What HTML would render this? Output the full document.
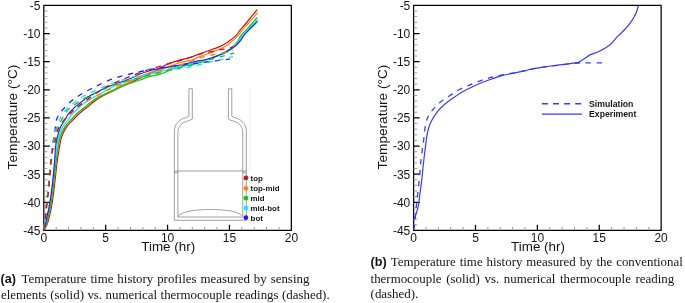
<!DOCTYPE html>
<html lang="en"><head><meta charset="utf-8"><title>Temperature time history</title>
<style>
html,body{margin:0;padding:0;background:#fff;}
svg{display:block;will-change:transform;}
text{fill:#141414;}
.tk{font:12px "Liberation Sans",Arial,sans-serif;}
.ttl{font:13.4px "Liberation Sans",Arial,sans-serif;}
.lg1{font:bold 7.9px "Liberation Sans",Arial,sans-serif;}
.lg2{font:bold 8.7px "Liberation Sans",Arial,sans-serif;}
.cap{font:12.9px "Liberation Serif","Times New Roman",serif;}
.cb{font:bold 12.6px "Liberation Sans",Arial,sans-serif;}
</style></head>
<body>
<svg width="685" height="303" viewBox="0 0 685 303">
<rect width="685" height="303" fill="#fff"/>
<path d="M43.8,230.4V5.4H291.35V230.4Z" fill="none" stroke="#000" stroke-width="1.25" stroke-linejoin="round"/>
<path d="M56.18,230.4v-3.4M68.56,230.4v-3.4M80.93,230.4v-3.4M93.31,230.4v-3.4M118.07,230.4v-3.4M130.44,230.4v-3.4M142.82,230.4v-3.4M155.20,230.4v-3.4M179.95,230.4v-3.4M192.33,230.4v-3.4M204.71,230.4v-3.4M217.09,230.4v-3.4M241.84,230.4v-3.4M254.22,230.4v-3.4M266.60,230.4v-3.4M278.97,230.4v-3.4M43.8,11.03h3.6M43.8,16.65h3.6M43.8,22.27h3.6M43.8,27.90h3.6M43.8,39.15h3.6M43.8,44.77h3.6M43.8,50.40h3.6M43.8,56.02h3.6M43.8,67.28h3.6M43.8,72.90h3.6M43.8,78.53h3.6M43.8,84.15h3.6M43.8,95.40h3.6M43.8,101.03h3.6M43.8,106.65h3.6M43.8,112.28h3.6M43.8,123.53h3.6M43.8,129.15h3.6M43.8,134.78h3.6M43.8,140.40h3.6M43.8,151.65h3.6M43.8,157.28h3.6M43.8,162.90h3.6M43.8,168.53h3.6M43.8,179.78h3.6M43.8,185.40h3.6M43.8,191.03h3.6M43.8,196.65h3.6M43.8,207.90h3.6M43.8,213.53h3.6M43.8,219.15h3.6M43.8,224.78h3.6" fill="none" stroke="#8e8e8e" stroke-width="0.9"/>
<path d="M105.69,230.4v-5.6M167.57,230.4v-5.6M229.46,230.4v-5.6M43.8,33.52h6M43.8,61.65h6M43.8,89.78h6M43.8,117.90h6M43.8,146.03h6M43.8,174.15h6M43.8,202.28h6" fill="none" stroke="#000" stroke-width="1.25"/>
<text x="40.5" y="9.8" text-anchor="end" class="tk">-5</text>
<text x="40.5" y="37.9" text-anchor="end" class="tk">-10</text>
<text x="40.5" y="66.0" text-anchor="end" class="tk">-15</text>
<text x="40.5" y="94.2" text-anchor="end" class="tk">-20</text>
<text x="40.5" y="122.3" text-anchor="end" class="tk">-25</text>
<text x="40.5" y="150.4" text-anchor="end" class="tk">-30</text>
<text x="40.5" y="178.6" text-anchor="end" class="tk">-35</text>
<text x="40.5" y="206.7" text-anchor="end" class="tk">-40</text>
<text x="40.5" y="234.8" text-anchor="end" class="tk">-45</text>
<text x="43.8" y="241.5" text-anchor="middle" class="tk">0</text>
<text x="105.7" y="241.5" text-anchor="middle" class="tk">5</text>
<text x="167.6" y="241.5" text-anchor="middle" class="tk">10</text>
<text x="229.5" y="241.5" text-anchor="middle" class="tk">15</text>
<text x="291.4" y="241.5" text-anchor="middle" class="tk">20</text>
<text x="168.2" y="251.2" text-anchor="middle" class="ttl">Time (hr)</text>
<text transform="translate(16.9,117.0) rotate(-90)" text-anchor="middle" class="ttl" style="font-size:13.65px">Temperature (°C)</text>
<path d="M413.6,230.4V5.4H661.15V230.4Z" fill="none" stroke="#000" stroke-width="1.25" stroke-linejoin="round"/>
<path d="M425.98,230.4v-3.4M438.36,230.4v-3.4M450.73,230.4v-3.4M463.11,230.4v-3.4M487.87,230.4v-3.4M500.24,230.4v-3.4M512.62,230.4v-3.4M525.00,230.4v-3.4M549.75,230.4v-3.4M562.13,230.4v-3.4M574.51,230.4v-3.4M586.88,230.4v-3.4M611.64,230.4v-3.4M624.02,230.4v-3.4M636.39,230.4v-3.4M648.77,230.4v-3.4M413.6,11.03h3.6M413.6,16.65h3.6M413.6,22.27h3.6M413.6,27.90h3.6M413.6,39.15h3.6M413.6,44.77h3.6M413.6,50.40h3.6M413.6,56.02h3.6M413.6,67.28h3.6M413.6,72.90h3.6M413.6,78.53h3.6M413.6,84.15h3.6M413.6,95.40h3.6M413.6,101.03h3.6M413.6,106.65h3.6M413.6,112.28h3.6M413.6,123.53h3.6M413.6,129.15h3.6M413.6,134.78h3.6M413.6,140.40h3.6M413.6,151.65h3.6M413.6,157.28h3.6M413.6,162.90h3.6M413.6,168.53h3.6M413.6,179.78h3.6M413.6,185.40h3.6M413.6,191.03h3.6M413.6,196.65h3.6M413.6,207.90h3.6M413.6,213.53h3.6M413.6,219.15h3.6M413.6,224.78h3.6" fill="none" stroke="#8e8e8e" stroke-width="0.9"/>
<path d="M475.49,230.4v-5.6M537.38,230.4v-5.6M599.26,230.4v-5.6M413.6,33.52h6M413.6,61.65h6M413.6,89.78h6M413.6,117.90h6M413.6,146.03h6M413.6,174.15h6M413.6,202.28h6" fill="none" stroke="#000" stroke-width="1.25"/>
<text x="410.3" y="9.8" text-anchor="end" class="tk">-5</text>
<text x="410.3" y="37.9" text-anchor="end" class="tk">-10</text>
<text x="410.3" y="66.0" text-anchor="end" class="tk">-15</text>
<text x="410.3" y="94.2" text-anchor="end" class="tk">-20</text>
<text x="410.3" y="122.3" text-anchor="end" class="tk">-25</text>
<text x="410.3" y="150.4" text-anchor="end" class="tk">-30</text>
<text x="410.3" y="178.6" text-anchor="end" class="tk">-35</text>
<text x="410.3" y="206.7" text-anchor="end" class="tk">-40</text>
<text x="410.3" y="234.8" text-anchor="end" class="tk">-45</text>
<text x="413.6" y="241.5" text-anchor="middle" class="tk">0</text>
<text x="475.5" y="241.5" text-anchor="middle" class="tk">5</text>
<text x="537.4" y="241.5" text-anchor="middle" class="tk">10</text>
<text x="599.3" y="241.5" text-anchor="middle" class="tk">15</text>
<text x="661.1" y="241.5" text-anchor="middle" class="tk">20</text>
<text x="538.0" y="251.2" text-anchor="middle" class="ttl">Time (hr)</text>
<text transform="translate(386.7,117.0) rotate(-90)" text-anchor="middle" class="ttl" style="font-size:13.65px">Temperature (°C)</text>
<g fill="none" stroke="#6e6e6e" stroke-width="0.65">
<path d="M188.9,88.8V116.2L186.6,117.4C178.5,119.3 174.4,124.5 174.4,131.5V220.3H246.3V131.5C246.3,124.5 242.2,119.3 234.1,117.4L231.8,116.2V88.8H228.4V119.0L231,120.4C238.5,122 242.8,126.3 242.8,132.3V217H177.9V132.3C177.9,126.3 182.2,122 189.7,120.4L192.3,119.0V88.8Z"/>
<path d="M174.4,171H246.3M174.4,172.7H177.9M242.8,172.7H246.3"/>
<path d="M177.9,216.6C181.5,211.2 196,209.5 210.35,209.5C224.7,209.5 239.2,211.2 242.8,216.6"/>
</g>
<path d="M249.8,86V171" fill="none" stroke="#e9e9e9" stroke-width="0.7"/>
<path d="M44.3,230.0C44.8,228.8 46.7,225.5 47.6,223.0C48.5,220.5 49.0,217.9 49.7,215.0C50.4,212.1 51.1,209.4 51.7,205.7C52.4,202.0 53.0,197.3 53.6,193.0C54.2,188.7 54.6,184.2 55.1,180.0C55.6,175.8 56.0,171.7 56.4,168.0C56.8,164.3 57.2,161.4 57.7,158.0C58.2,154.6 58.8,151.2 59.4,147.7C60.0,144.2 60.3,140.6 61.5,137.1C62.7,133.6 64.8,129.5 66.8,126.6C68.8,123.6 71.7,121.4 73.6,119.4C75.5,117.4 76.4,116.3 78.0,114.8C79.6,113.3 81.5,111.7 83.2,110.3C85.0,108.9 86.8,107.8 88.5,106.4C90.2,105.0 91.5,103.5 93.5,102.0C95.5,100.5 98.0,98.7 100.5,97.2C103.0,95.7 106.0,94.3 108.3,93.2C110.5,92.1 112.0,91.6 114.0,90.5C116.0,89.4 117.8,88.0 120.6,86.6C123.4,85.2 127.9,83.6 131.1,82.2C134.3,80.8 137.2,79.6 140.0,78.3C142.8,77.0 145.3,75.7 148.0,74.4C150.7,73.1 153.7,71.9 156.0,70.6C158.3,69.3 159.8,68.0 162.0,66.8C164.2,65.6 166.8,64.4 169.4,63.4C172.0,62.4 175.1,61.4 177.8,60.6C180.5,59.8 183.4,59.2 185.8,58.6C188.2,58.0 189.5,57.6 192.0,56.7C194.5,55.9 196.7,54.9 200.6,53.5C204.5,52.1 211.6,49.7 215.2,48.4C218.8,47.1 220.0,46.6 222.1,45.5C224.2,44.4 225.7,43.4 227.9,41.9C230.1,40.4 233.1,38.4 235.2,36.4C237.3,34.4 238.6,31.9 240.3,29.8C242.0,27.7 242.6,27.4 245.4,24.0C248.2,20.6 255.2,12.0 257.2,9.6" fill="none" stroke="#cc1414" stroke-width="1.2" stroke-linejoin="round"/>
<path d="M44.3,230.0C44.7,228.8 46.0,225.5 46.7,223.0C47.4,220.5 48.0,217.9 48.6,215.0C49.2,212.1 50.0,209.4 50.6,205.7C51.2,202.0 51.9,197.3 52.5,193.0C53.1,188.7 53.5,184.2 54.0,180.0C54.5,175.8 54.9,171.7 55.3,168.0C55.7,164.3 56.0,161.4 56.5,158.0C57.0,154.6 57.4,151.2 58.0,147.7C58.6,144.2 58.9,140.6 60.1,137.1C61.3,133.6 63.2,129.5 65.1,126.6C67.0,123.6 69.8,121.4 71.6,119.4C73.4,117.4 74.2,116.1 75.8,114.6C77.4,113.0 79.3,111.5 81.1,110.1C82.9,108.7 84.6,107.5 86.4,106.0C88.2,104.5 89.7,103.0 91.9,101.4C94.1,99.8 97.2,98.1 99.8,96.6C102.4,95.1 105.5,93.7 107.8,92.6C110.1,91.5 111.5,91.0 113.6,89.9C115.7,88.8 117.7,87.3 120.6,85.9C123.5,84.5 128.1,82.9 131.1,81.4C134.1,79.9 135.7,78.4 138.6,77.0C141.5,75.6 145.3,74.1 148.7,73.0C152.0,71.9 155.6,71.3 158.7,70.3C161.8,69.3 164.6,68.2 167.3,67.2C170.1,66.2 172.6,65.2 175.2,64.3C177.8,63.4 180.3,62.6 183.1,61.9C185.9,61.2 189.1,61.0 192.0,60.1C194.9,59.2 196.7,57.9 200.6,56.4C204.5,54.9 210.8,52.7 215.2,50.9C219.6,49.1 224.2,47.0 226.8,45.5C229.4,44.0 229.0,43.7 230.8,42.2C232.6,40.7 235.6,38.3 237.4,36.4C239.2,34.5 240.1,32.7 241.8,30.6C243.5,28.5 245.0,27.0 247.6,24.0C250.2,21.0 255.9,14.5 257.6,12.6" fill="none" stroke="#ff8010" stroke-width="1.2" stroke-linejoin="round"/>
<path d="M44.3,230.0C44.7,228.8 46.0,225.5 46.7,223.0C47.4,220.5 48.0,217.9 48.6,215.0C49.2,212.1 50.0,209.4 50.6,205.7C51.2,202.0 51.9,197.3 52.5,193.0C53.1,188.7 53.5,184.2 54.0,180.0C54.5,175.8 54.9,171.7 55.3,168.0C55.7,164.3 56.0,161.4 56.5,158.0C57.0,154.6 57.4,151.2 58.0,147.7C58.6,144.2 58.9,140.6 60.1,137.1C61.3,133.6 63.2,129.5 65.1,126.6C67.0,123.6 69.8,121.4 71.6,119.4C73.4,117.4 74.2,116.1 75.8,114.6C77.4,113.0 79.3,111.5 81.1,110.1C82.9,108.7 84.6,107.5 86.4,106.0C88.2,104.5 89.7,103.0 91.9,101.4C94.1,99.8 97.2,98.0 99.8,96.6C102.4,95.2 105.5,93.8 107.8,92.8C110.1,91.8 111.5,91.2 113.6,90.3C115.7,89.3 117.7,88.3 120.6,87.1C123.5,85.9 127.9,84.1 131.1,82.9C134.3,81.7 137.2,81.0 140.0,80.0C142.8,79.0 144.6,78.0 148.2,76.9C151.8,75.8 157.1,75.1 161.6,73.6C166.1,72.1 171.6,69.2 175.2,68.0C178.8,66.8 180.3,66.8 183.1,66.2C185.9,65.6 189.8,64.7 192.0,64.3C194.2,63.9 193.3,64.4 196.0,63.6C198.7,62.8 204.1,60.9 207.9,59.5C211.7,58.1 215.9,56.6 218.8,55.3C221.7,54.0 223.1,53.2 225.4,51.7C227.7,50.2 230.9,48.0 232.7,46.6C234.5,45.2 235.1,44.6 236.0,43.6C236.9,42.6 237.4,42.0 238.1,40.8C238.8,39.6 239.1,38.1 240.3,36.4C241.5,34.7 243.5,32.7 245.4,30.6C247.3,28.5 249.6,26.2 251.6,24.0C253.6,21.8 256.3,18.4 257.2,17.3" fill="none" stroke="#12c812" stroke-width="1.2" stroke-linejoin="round"/>
<path d="M44.3,230.0C44.5,228.8 45.3,225.5 45.8,223.0C46.3,220.5 46.9,217.9 47.5,215.0C48.1,212.1 48.9,209.4 49.5,205.7C50.1,202.0 50.8,197.3 51.4,193.0C52.0,188.7 52.5,184.2 53.0,180.0C53.5,175.8 53.8,171.7 54.2,168.0C54.6,164.3 54.9,161.4 55.3,158.0C55.7,154.6 56.2,151.2 56.7,147.7C57.2,144.2 57.6,140.6 58.6,137.1C59.6,133.6 61.1,129.6 62.8,126.6C64.5,123.6 67.3,121.0 68.6,119.2C69.9,117.4 69.8,117.0 70.6,115.9C71.4,114.8 72.6,113.8 73.7,112.7C74.8,111.6 75.7,110.9 77.4,109.3C79.1,107.7 81.6,105.0 84.0,103.2C86.4,101.4 88.8,100.1 91.9,98.3C95.0,96.5 99.5,94.1 102.5,92.4C105.5,90.7 107.1,89.7 110.0,88.3C112.9,86.9 116.5,85.1 120.0,83.8C123.5,82.5 127.7,81.2 131.0,80.2C134.3,79.2 137.5,78.3 140.0,77.5C142.5,76.7 142.8,76.4 146.0,75.5C149.2,74.6 154.7,73.2 159.0,72.0C163.3,70.8 166.8,69.8 172.0,68.5C177.2,67.2 184.0,65.8 190.0,64.2C196.0,62.7 203.2,60.7 208.0,59.2C212.8,57.7 215.8,56.5 219.0,55.3C222.2,54.0 224.2,53.5 227.0,51.7C229.8,49.9 234.0,46.3 236.0,44.5C238.0,42.7 238.2,42.1 239.2,40.8C240.2,39.4 240.5,38.1 241.8,36.4C243.1,34.7 245.0,32.7 246.9,30.6C248.8,28.5 251.5,25.9 253.3,24.0C255.1,22.1 256.9,20.2 257.6,19.5" fill="none" stroke="#10e6ee" stroke-width="1.2" stroke-linejoin="round"/>
<path d="M44.3,230.0C44.5,228.8 45.2,225.5 45.7,223.0C46.2,220.5 46.8,217.9 47.4,215.0C48.0,212.1 48.8,209.4 49.4,205.7C50.0,202.0 50.7,197.3 51.3,193.0C51.9,188.7 52.4,184.2 52.9,180.0C53.4,175.8 53.7,171.7 54.0,168.0C54.3,164.3 54.7,161.4 54.9,158.0C55.1,154.6 55.0,151.2 55.4,147.7C55.8,144.2 56.4,140.6 57.3,137.1C58.2,133.6 59.4,129.6 60.7,126.6C62.1,123.6 64.2,121.2 65.4,119.2C66.6,117.2 67.0,115.9 67.9,114.6C68.8,113.3 69.5,112.6 70.6,111.4C71.7,110.2 73.2,108.8 74.3,107.7C75.4,106.7 76.0,106.2 77.4,105.1C78.8,104.0 80.7,102.4 82.5,101.0C84.3,99.6 86.2,98.2 88.2,96.9C90.2,95.6 92.2,94.7 94.6,93.4C97.0,92.1 99.3,90.8 102.8,89.2C106.2,87.6 111.4,85.5 115.3,84.0C119.2,82.5 123.1,81.3 126.0,80.2C128.9,79.1 130.4,78.6 132.8,77.5C135.2,76.4 137.5,75.0 140.5,73.8C143.5,72.6 147.3,71.5 150.8,70.5C154.3,69.5 158.0,68.8 161.6,68.1C165.2,67.4 169.0,67.0 172.6,66.4C176.2,65.8 179.9,65.0 183.1,64.3C186.3,63.6 190.1,63.0 192.0,62.5C193.9,62.0 192.2,62.1 194.8,61.5C197.5,60.9 203.9,60.0 207.9,59.0C211.9,58.0 215.6,56.5 218.8,55.3C222.0,54.1 224.0,53.3 226.9,51.7C229.8,50.1 233.8,47.3 236.0,45.5C238.2,43.7 239.1,42.3 240.3,40.8C241.5,39.3 241.9,38.1 243.2,36.4C244.5,34.7 246.4,32.7 248.3,30.6C250.2,28.5 253.3,25.6 254.9,24.0C256.4,22.4 257.2,21.8 257.6,21.3" fill="none" stroke="#2222ff" stroke-width="1.2" stroke-linejoin="round"/>
<path d="M43.4,230.0C43.6,228.0 44.6,222.0 45.0,218.0C45.5,214.0 45.8,209.8 46.2,206.0C46.7,202.2 47.1,199.0 47.5,195.3C47.9,191.6 48.3,187.8 48.6,184.0C49.0,180.2 49.3,176.3 49.6,172.6C50.0,168.9 50.3,165.6 50.6,162.0C51.0,158.4 51.4,154.8 51.9,151.3C52.3,147.8 52.7,144.8 53.2,141.2C53.7,137.6 54.5,133.7 55.1,129.9C55.7,126.1 55.6,121.9 56.9,118.6C58.1,115.3 60.2,112.8 62.6,109.9C65.0,107.0 68.5,103.6 71.4,101.1C74.3,98.6 77.1,96.8 80.2,94.8C83.3,92.8 87.1,90.9 90.2,89.2C93.3,87.5 95.9,86.3 99.0,84.8C102.1,83.3 105.5,81.6 108.8,80.3C112.1,79.0 115.5,78.0 119.0,76.9C122.5,75.9 126.2,74.9 129.9,74.0C133.6,73.1 137.6,72.2 140.9,71.5C144.2,70.8 146.8,70.1 150.0,69.5C153.2,68.9 155.8,68.6 160.0,68.0C164.2,67.4 170.0,66.7 175.0,66.0C180.0,65.3 185.8,64.5 190.0,64.0C194.2,63.5 195.7,63.3 200.0,62.8C204.3,62.3 211.0,61.4 215.6,60.8C220.2,60.2 225.2,59.6 227.6,59.3C230.0,59.0 229.6,59.1 230.0,59.1" fill="none" stroke="#2222ff" stroke-width="1.3" stroke-dasharray="5.4 5.6"/>
<path d="M43.5,230.0C43.7,228.0 44.7,222.0 45.1,218.0C45.6,214.0 45.9,209.8 46.4,206.0C46.8,202.2 47.2,199.0 47.6,195.3C48.0,191.6 48.4,187.8 48.8,184.0C49.1,180.2 49.4,176.3 49.8,172.6C50.1,168.9 50.4,165.6 50.8,162.0C51.1,158.4 51.4,154.8 52.0,151.3C52.5,147.8 53.1,144.8 53.8,141.2C54.5,137.6 54.9,133.6 55.9,129.9C56.9,126.2 58.3,122.4 59.8,119.2C61.3,116.0 62.7,113.2 65.1,110.5C67.4,107.8 71.0,105.3 73.9,103.0C76.8,100.7 79.6,98.6 82.7,96.7C85.8,94.8 89.4,93.3 92.7,91.7C96.0,90.1 99.6,88.7 102.8,87.3C106.0,85.9 108.5,84.7 111.7,83.5C114.9,82.3 118.4,81.3 121.9,80.2C125.4,79.1 129.2,77.8 132.8,76.9C136.5,76.0 140.1,75.5 143.8,74.8C147.5,74.1 150.8,73.3 155.0,72.5C159.2,71.7 163.8,70.8 169.2,70.0C174.6,69.2 182.3,68.4 187.4,67.5C192.5,66.6 196.2,65.4 200.0,64.5C203.8,63.6 206.7,62.8 210.0,62.0C213.3,61.2 216.6,60.5 220.0,59.7C223.4,58.9 228.3,57.7 230.5,57.2C232.7,56.8 232.7,57.0 233.1,57.0" fill="none" stroke="#10e6ee" stroke-width="1.3" stroke-dasharray="5.4 5.6"/>
<path d="M43.5,230.0C43.8,228.0 44.8,222.0 45.2,218.0C45.7,214.0 46.0,209.8 46.5,206.0C46.9,202.2 47.4,199.0 47.8,195.3C48.1,191.6 48.5,187.8 48.9,184.0C49.2,180.2 49.5,176.3 49.9,172.6C50.2,168.9 50.5,165.6 50.9,162.0C51.2,158.4 51.4,155.0 52.0,151.3C52.7,147.6 53.7,143.6 54.5,139.9C55.3,136.2 55.9,132.4 57.0,129.2C58.1,126.0 59.5,123.5 61.2,120.5C62.9,117.5 64.7,113.7 67.0,111.0C69.3,108.3 72.0,106.7 75.0,104.5C78.0,102.3 80.8,100.2 85.0,98.0C89.2,95.8 95.8,92.9 100.0,91.0C104.2,89.1 106.7,87.8 110.0,86.5C113.3,85.2 116.7,84.1 120.0,83.0C123.3,81.9 126.7,80.9 130.0,80.0C133.3,79.1 136.7,78.3 140.0,77.5C143.3,76.7 146.7,75.8 150.0,75.0C153.3,74.2 155.8,73.5 160.0,72.5C164.2,71.5 170.0,70.2 175.0,69.0C180.0,67.8 185.8,66.6 190.0,65.5C194.2,64.4 196.4,63.6 200.0,62.5C203.6,61.4 207.9,60.1 211.5,59.1C215.1,58.1 218.3,57.3 221.8,56.4C225.3,55.5 230.3,54.0 232.4,53.5C234.5,53.0 234.0,53.2 234.3,53.2" fill="none" stroke="#12c812" stroke-width="1.3" stroke-dasharray="5.4 5.6"/>
<path d="M43.7,230.0C44.0,228.0 44.9,222.0 45.4,218.0C45.9,214.0 46.2,209.8 46.6,206.0C47.0,202.2 47.5,199.0 47.9,195.3C48.3,191.6 48.6,187.8 49.0,184.0C49.4,180.2 49.7,176.3 50.0,172.6C50.3,168.9 50.6,165.6 51.0,162.0C51.4,158.4 51.5,155.0 52.2,151.3C52.9,147.6 54.3,143.6 55.2,139.9C56.1,136.2 56.1,132.6 57.6,129.2C59.1,125.8 62.4,122.2 64.5,119.6C66.7,117.0 68.3,115.6 70.5,113.5C72.7,111.4 75.3,109.0 77.4,107.2C79.5,105.5 81.0,104.3 83.0,103.0C85.0,101.7 86.7,100.8 89.3,99.5C91.9,98.2 95.5,96.7 98.5,95.2C101.5,93.7 104.2,92.1 107.5,90.5C110.8,88.9 114.2,87.2 118.0,85.5C121.8,83.8 126.3,82.0 130.0,80.5C133.7,79.0 136.7,77.8 140.0,76.5C143.3,75.2 146.7,74.0 150.0,73.0C153.3,72.0 155.8,71.6 160.0,70.5C164.2,69.4 170.0,68.0 175.0,66.5C180.0,65.0 185.6,63.0 190.0,61.5C194.4,60.0 198.0,58.6 201.7,57.5C205.4,56.4 208.8,55.8 212.3,55.0C215.8,54.2 219.5,53.6 222.9,52.8C226.3,52.0 231.1,50.6 232.7,50.2" fill="none" stroke="#ff8010" stroke-width="1.3" stroke-dasharray="5.4 5.6"/>
<path d="M43.8,230.0C44.1,228.0 45.0,222.0 45.5,218.0C46.0,214.0 46.3,209.8 46.7,206.0C47.1,202.2 47.6,199.0 48.0,195.3C48.4,191.6 48.8,187.8 49.1,184.0C49.5,180.2 49.8,176.3 50.1,172.6C50.4,168.9 50.7,165.6 51.1,162.0C51.5,158.4 51.5,155.0 52.3,151.3C53.1,147.6 54.7,143.6 55.7,139.9C56.7,136.2 57.0,132.3 58.2,129.2C59.5,126.1 61.0,123.9 63.2,121.1C65.4,118.3 68.8,114.8 71.4,112.3C74.0,109.8 75.8,108.5 78.9,106.0C82.0,103.5 86.5,100.0 90.0,97.5C93.5,95.0 97.1,92.8 100.0,91.0C102.9,89.2 104.4,88.0 107.3,86.4C110.2,84.9 114.2,83.2 117.5,81.7C120.8,80.2 123.7,79.0 127.0,77.7C130.3,76.4 133.8,75.0 137.2,73.7C140.6,72.4 143.9,71.2 147.4,70.0C150.9,68.8 154.6,67.9 158.2,66.8C161.8,65.7 165.5,64.5 169.2,63.5C172.8,62.5 176.6,61.6 180.1,60.6C183.6,59.6 186.5,58.6 190.0,57.5C193.5,56.4 197.5,54.9 201.0,53.9C204.5,52.9 207.5,52.5 211.2,51.7C214.9,50.9 219.5,49.9 223.2,49.1C226.9,48.3 231.7,47.3 233.4,46.9" fill="none" stroke="#cc1414" stroke-width="1.3" stroke-dasharray="5.4 5.6"/>
<circle cx="245.9" cy="177.9" r="2.4" fill="#cc1414"/>
<text x="250.6" y="180.7" class="lg1">top</text>
<circle cx="245.9" cy="188.3" r="2.4" fill="#ff8010"/>
<text x="250.6" y="191.1" class="lg1">top-mid</text>
<circle cx="245.9" cy="198.2" r="2.4" fill="#12c812"/>
<text x="250.6" y="201.0" class="lg1">mid</text>
<circle cx="245.9" cy="207.9" r="2.4" fill="#10f0f8"/>
<text x="250.6" y="210.7" class="lg1">mid-bot</text>
<circle cx="245.9" cy="217.7" r="2.4" fill="#1a1aff"/>
<text x="250.6" y="220.5" class="lg1">bot</text>
<path d="M413.6,220.5C413.8,219.8 414.5,217.8 415.0,216.5C415.5,215.2 416.1,213.8 416.5,212.5C416.9,211.2 417.3,210.1 417.7,208.8C418.1,207.5 418.3,206.3 418.6,204.5C418.9,202.7 419.2,199.9 419.4,198.0C419.6,196.1 419.6,196.0 420.0,193.1C420.4,190.2 421.3,184.2 421.7,180.6C422.1,177.0 422.3,175.0 422.6,171.7C422.9,168.4 423.2,165.2 423.7,161.0C424.2,156.8 425.0,150.5 425.5,146.6C426.0,142.7 426.1,140.7 426.6,137.7C427.1,134.7 427.7,131.2 428.5,128.5C429.3,125.8 429.8,124.2 431.3,121.3C432.8,118.4 435.5,114.0 437.6,111.3C439.7,108.6 441.8,106.9 443.9,105.0C446.0,103.1 447.1,102.2 450.2,100.0C453.3,97.8 458.9,93.9 462.6,91.7C466.3,89.5 469.2,88.3 472.6,86.7C476.0,85.1 479.4,83.7 482.7,82.3C486.0,80.9 489.3,79.8 492.7,78.6C496.1,77.4 499.5,76.3 502.8,75.4C506.1,74.5 509.0,74.1 512.8,73.3C516.6,72.5 522.1,71.3 525.4,70.6C528.7,69.9 529.3,69.5 532.6,68.9C535.9,68.3 540.9,67.5 545.1,66.9C549.3,66.3 553.5,65.6 557.7,65.1C561.9,64.5 566.7,64.0 570.2,63.6C573.7,63.2 577.2,62.6 578.6,62.4L578.6,62.4C579.6,61.7 582.4,59.7 584.5,58.4C586.6,57.1 588.8,55.5 591.1,54.4C593.4,53.3 596.0,52.9 598.4,51.8C600.8,50.7 603.6,49.1 605.7,47.8C607.8,46.5 609.4,45.4 611.0,43.9C612.6,42.4 614.1,40.2 615.6,38.6C617.1,37.0 618.8,35.4 620.2,34.0C621.6,32.6 622.9,31.3 624.2,30.0C625.5,28.7 626.6,27.4 627.8,26.0C629.0,24.6 630.3,22.9 631.4,21.3C632.5,19.7 633.4,18.1 634.3,16.5C635.1,14.9 635.8,13.8 636.5,12.0C637.2,10.2 638.0,6.7 638.3,5.6" fill="none" stroke="#3a3aff" stroke-width="1.2" stroke-linejoin="round"/>
<path d="M413.8,230.0C413.9,229.2 414.2,227.5 414.5,225.0C414.8,222.5 415.2,218.4 415.5,215.0C415.8,211.6 416.2,207.6 416.5,204.4C416.8,201.2 417.1,199.1 417.5,195.6C417.9,192.1 418.4,187.7 418.8,183.7C419.2,179.7 419.7,175.5 420.0,171.8C420.3,168.1 420.4,165.2 420.8,161.6C421.2,158.0 421.7,154.1 422.2,150.3C422.7,146.5 423.3,142.8 423.8,139.0C424.3,135.2 424.5,131.2 425.1,127.6C425.7,124.0 426.4,120.5 427.6,117.6C428.9,114.7 430.5,112.6 432.6,110.0C434.8,107.4 437.6,104.4 440.5,102.0C443.4,99.6 446.8,97.6 450.0,95.5C453.2,93.4 456.2,91.2 459.5,89.5C462.8,87.8 466.1,86.5 469.5,85.1C472.9,83.6 476.8,82.0 480.2,80.8C483.6,79.6 486.8,78.6 490.2,77.7C493.6,76.8 496.5,76.2 500.3,75.4C504.1,74.6 508.6,73.9 512.8,73.1C517.0,72.3 522.1,71.3 525.4,70.6C528.7,69.9 529.3,69.5 532.6,68.9C535.9,68.3 540.9,67.5 545.1,66.9C549.3,66.3 553.5,65.8 557.7,65.3C561.9,64.8 566.7,64.1 570.2,63.7C573.8,63.3 576.5,63.1 579.0,63.0C581.5,62.9 581.1,62.8 585.0,62.8C588.9,62.8 599.3,62.8 602.2,62.8" fill="none" stroke="#3a3aff" stroke-width="1.3" stroke-dasharray="5.4 5.6"/>
<path d="M541.9,103.7H582" fill="none" stroke="#3a3aff" stroke-width="1.4" stroke-dasharray="6 5.1"/>
<path d="M541.9,114.2H582" fill="none" stroke="#3a3aff" stroke-width="1.2"/>
<text x="589" y="107" class="lg2">Simulation</text>
<text x="589" y="117.3" class="lg2">Experiment</text>
<text x="0.5" y="282.6" class="cb">(a)</text>
<text x="21.6" y="282.6" class="cap" style="word-spacing:0.74px">Temperature time history profiles measured by sensing</text>
<text x="1.0" y="298.6" class="cap" style="word-spacing:0.24px">elements (solid) vs. numerical thermocouple readings (dashed).</text>
<text x="370.6" y="266.4" class="cb">(b)</text>
<text x="390.8" y="266.4" class="cap" style="word-spacing:0.73px">Temperature time history measured by the conventional</text>
<text x="370.6" y="282.5" class="cap" style="word-spacing:1.44px">thermocouple (solid) vs. numerical thermocouple reading</text>
<text x="370.6" y="298.4" class="cap" style="word-spacing:0.00px">(dashed).</text>
</svg>
</body></html>
